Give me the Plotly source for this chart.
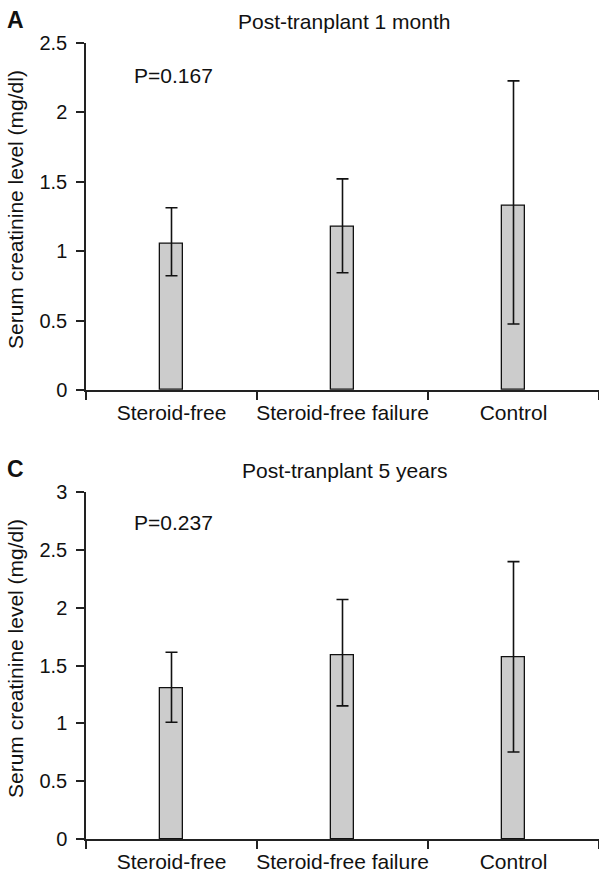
import plotly.graph_objects as go

categories = ["Steroid-free", "Steroid-free failure", "Control"]

# Panel A: post-transplant 1 month
month1_mean = [1.055, 1.178, 1.326]
month1_upper = [1.312, 1.520, 2.225]
month1_lower = [0.822, 0.844, 0.475]

# Panel C: post-transplant 5 years
year5_mean = [1.307, 1.593, 1.576]
year5_upper = [1.616, 2.072, 2.400]
year5_lower = [1.010, 1.152, 0.753]

panel_titles = ["Post-tranplant 1 month", "Post-tranplant 5 years"]
panel_letters = ["A", "C"]
p_values = ["P=0.167", "P=0.237"]
y_title = "Serum creatinine level (mg/dl)"

W, H = 599, 872
FONT = "Liberation Sans, Arial, sans-serif"
FS = 21
TFS = 20
AXC = "#222222"
TXT = "#111111"

fig = go.Figure()

def add_panel(mean, upper, lower, xa, ya):
    fig.add_trace(go.Bar(
        x=categories, y=mean, xaxis=xa, yaxis=ya,
        width=0.134,
        marker=dict(color="#cccccc", line=dict(color="#111111", width=1.3)),
        error_y=dict(type="data", symmetric=False,
                     array=[u - m for u, m in zip(upper, mean)],
                     arrayminus=[m - l for m, l in zip(mean, lower)],
                     color="#111111", thickness=1.6, width=6),
        showlegend=False, hoverinfo="skip",
    ))

add_panel(month1_mean, month1_upper, month1_lower, "x", "y")
add_panel(year5_mean, year5_upper, year5_lower, "x2", "y2")

def px_x(px):
    return px / W

def px_y(py):
    return 1 - py / H

xdom = [86 / W, 1.0]
axis_common = dict(showline=True, linecolor=AXC, linewidth=1.5, ticks="outside",
                   ticklen=8, tickwidth=1.5, tickcolor=AXC, showgrid=False, zeroline=False,
                   automargin=False, tickangle=0)
xfont = dict(family=FONT, size=FS, color=TXT)
yfont = dict(family=FONT, size=TFS, color=TXT)

fig.update_layout(
    template="none",
    width=W, height=H,
    margin=dict(l=0, r=0, t=0, b=0, autoexpand=False),
    paper_bgcolor="white", plot_bgcolor="white",
    bargap=0,
    xaxis=dict(domain=xdom, anchor="y", type="category", tickson="boundaries",
               range=[-0.5, 2.5], tickfont=xfont, ticklabelstandoff=3, **axis_common),
    yaxis=dict(domain=[px_y(390), px_y(42.7)], anchor="x", range=[0, 2.5], dtick=0.5,
               tickfont=yfont, ticklabelstandoff=5, **axis_common),
    xaxis2=dict(domain=xdom, anchor="y2", type="category", tickson="boundaries",
                range=[-0.5, 2.5], tickfont=xfont, ticklabelstandoff=3, **axis_common),
    yaxis2=dict(domain=[px_y(839), px_y(492.3)], anchor="x2", range=[0, 3], dtick=0.5,
                tickfont=yfont, ticklabelstandoff=5, **axis_common),
)

anns = []
for i, (title, letter, pv) in enumerate(zip(panel_titles, panel_letters, p_values)):
    off = [0, 449][i]
    anns.append(dict(text=title, x=px_x(344), y=px_y(21.5 + off), xref="paper", yref="paper",
                     showarrow=False, xanchor="center", yanchor="middle",
                     font=dict(family=FONT, size=FS, color=TXT)))
    anns.append(dict(text="<b>" + letter + "</b>", x=px_x(5), y=px_y(20 + off), xref="paper",
                     yref="paper", showarrow=False, xanchor="left", yanchor="middle",
                     font=dict(family=FONT, size=23, color=TXT)))
    anns.append(dict(text=pv, x=px_x(132), y=px_y([75.5, 522][i]), xref="paper", yref="paper",
                     showarrow=False, xanchor="left", yanchor="middle",
                     font=dict(family=FONT, size=FS, color=TXT)))
    anns.append(dict(text=y_title, x=px_x(15), y=px_y(210 + off), xref="paper", yref="paper",
                     showarrow=False, xanchor="center", yanchor="middle", textangle=-90,
                     font=dict(family=FONT, size=FS, color=TXT)))
fig.update_layout(annotations=anns)

fig.write_html("out.html", config={"displayModeBar": False},
               post_script="document.body.style.margin='0';document.body.style.overflow='hidden';")
